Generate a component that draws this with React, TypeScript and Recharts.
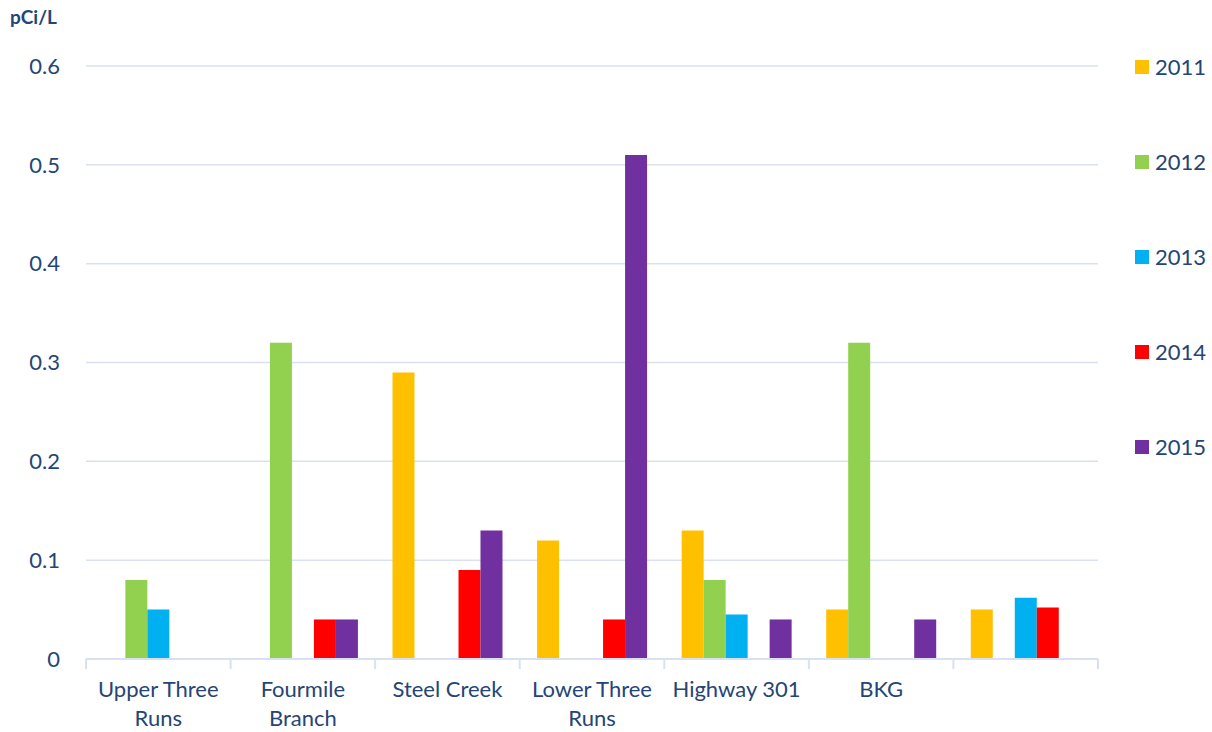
import { BarChart, Bar, XAxis, YAxis, CartesianGrid } from "recharts"

const categories = ["Upper Three Runs", "Fourmile Branch", "Steel Creek", "Lower Three Runs", "Highway 301", "BKG", ""]
const v2011 = [null, null, 0.29, 0.12, 0.13, 0.05, 0.05]
const v2012 = [0.08, 0.32, null, null, 0.08, 0.32, null]
const v2013 = [0.05, null, null, null, 0.045, null, 0.062]
const v2014 = [null, 0.04, 0.09, 0.04, null, null, 0.052]
const v2015 = [null, 0.04, 0.13, 0.51, 0.04, 0.04, null]
const yTicks = [0, 0.1, 0.2, 0.3, 0.4, 0.5, 0.6]

const series = [
  { key: "2011", color: "#FFC000" },
  { key: "2012", color: "#92D050" },
  { key: "2013", color: "#00B0F0" },
  { key: "2014", color: "#FF0000" },
  { key: "2015", color: "#7030A0" },
]

const data = categories.map((name, i) => ({
  name,
  "2011": v2011[i],
  "2012": v2012[i],
  "2013": v2013[i],
  "2014": v2014[i],
  "2015": v2015[i],
}))

const textColor = "#244575"
const gridColor = "#D9E1F0"
const font = "Lato, 'Open Sans', sans-serif"
const plotWidth = 1212 - 86 - 114

// splits long labels on the last space, like the original wrapping
const wrap = (s: string) => {
  if (s.length <= 11) return [s]
  const i = s.lastIndexOf(" ")
  return [s.slice(0, i), s.slice(i + 1)]
}

const CategoryTick = ({ x, y, payload, index }: any) => {
  const half = plotWidth / categories.length / 2
  const lines = wrap(payload.value)
  return (
    <g>
      <line x1={x - half} x2={x - half} y1={y - 8} y2={y + 2} stroke={gridColor} strokeWidth={2} />
      {index === categories.length - 1 && (
        <line x1={x + half} x2={x + half} y1={y - 8} y2={y + 2} stroke={gridColor} strokeWidth={2} />
      )}
      {lines.map((l, k) => (
        <text key={k} x={x} y={y + 30 + k * 29} textAnchor="middle" fill={textColor} fontSize={22} fontFamily={font}>
          {l}
        </text>
      ))}
    </g>
  )
}

export default function App() {
  return (
    <div style={{ position: "absolute", left: 0, top: 0, width: 1212, height: 732, background: "#fff" }}>
      <div style={{ position: "absolute", left: 10, top: 5, fontFamily: font, fontWeight: 700, fontSize: 19, color: textColor }}>
        pCi/L
      </div>
      <BarChart
        width={1212}
        height={732}
        data={data}
        margin={{ top: 66, right: 114, left: 0, bottom: 0 }}
        barCategoryGap="12%"
        barGap={0}
      >
        <CartesianGrid vertical={false} stroke={gridColor} strokeWidth={1.5} />
        <XAxis
          dataKey="name"
          axisLine={{ stroke: gridColor, strokeWidth: 2 }}
          tickLine={false}
          interval={0}
          tick={<CategoryTick />}
          height={73}
        />
        <YAxis
          width={86}
          domain={[0, 0.6]}
          ticks={yTicks}
          axisLine={false}
          tickLine={false}
          tickMargin={20}
          tick={{ fill: textColor, fontSize: 22, fontFamily: font }}
        />
        {series.map((s) => (
          <Bar key={s.key} dataKey={s.key} fill={s.color} isAnimationActive={false} />
        ))}
      </BarChart>
      <div style={{ position: "absolute", left: 1135, top: 53, fontFamily: font }}>
        {series.map((s) => (
          <div key={s.key} style={{ height: 95, display: "flex", alignItems: "flex-start" }}>
            <span style={{ display: "inline-block", width: 14, height: 14, background: s.color, marginTop: 7, marginRight: 6 }} />
            <span style={{ fontSize: 22, color: textColor, lineHeight: "28px" }}>{s.key}</span>
          </div>
        ))}
      </div>
    </div>
  )
}
